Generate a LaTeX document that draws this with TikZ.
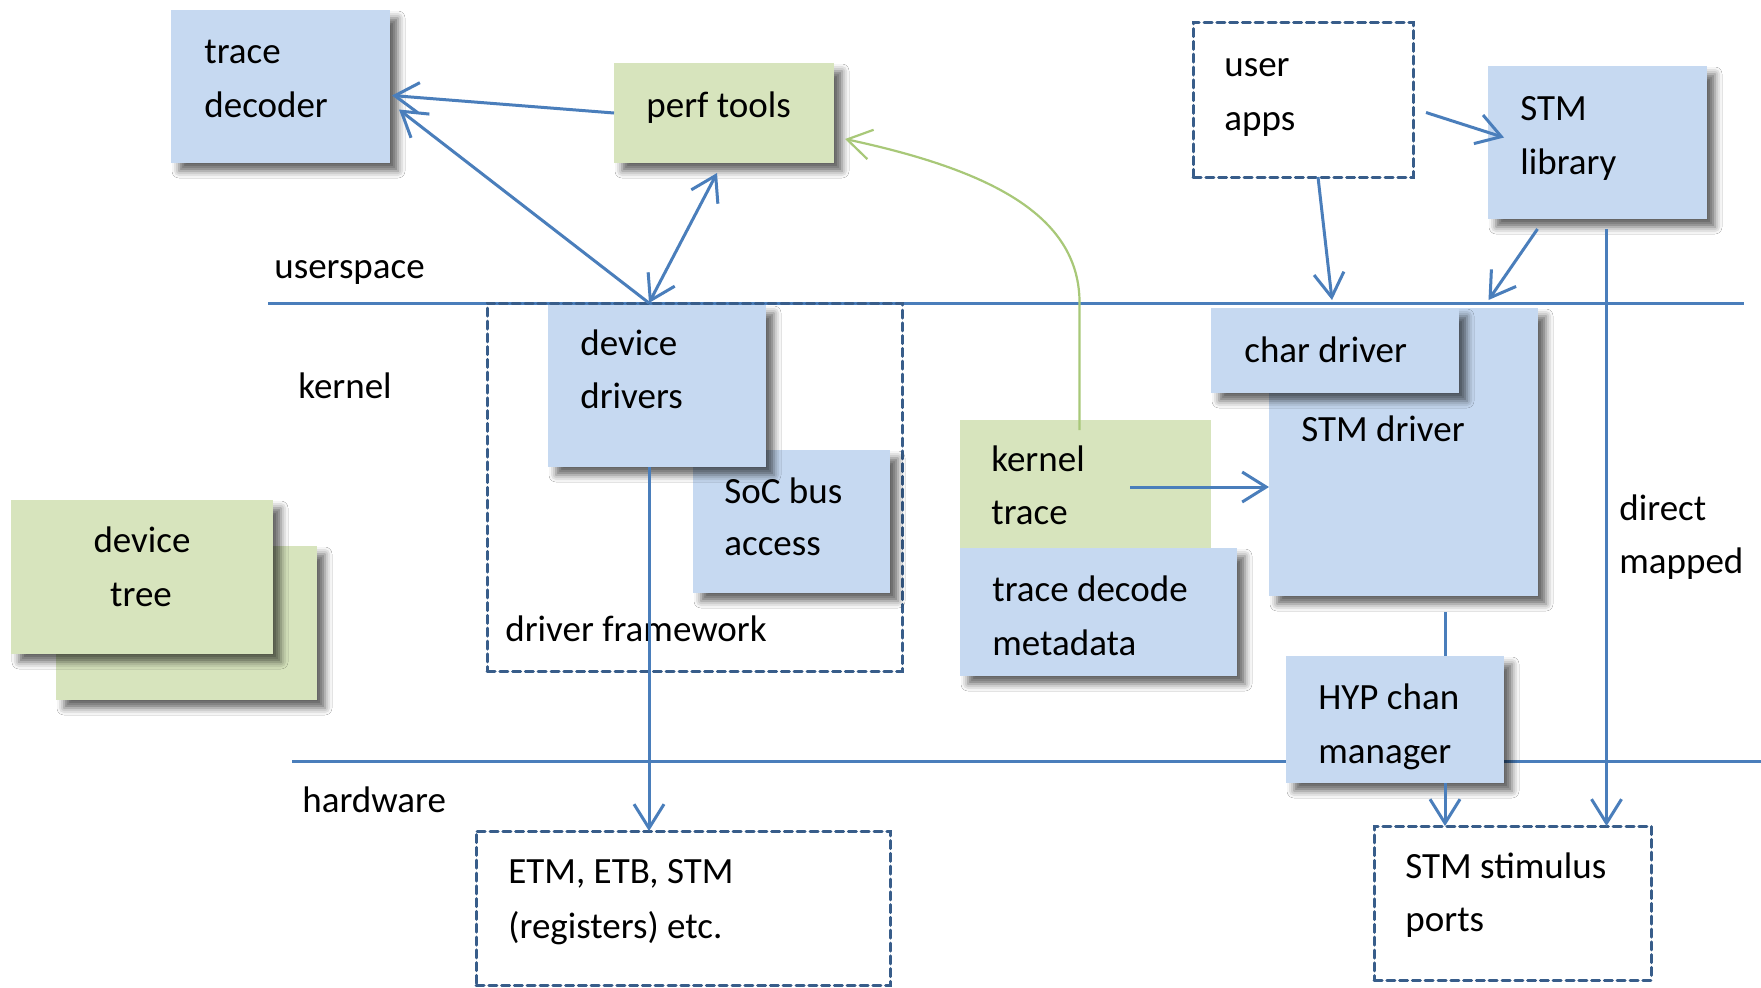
\documentclass[tikz,border=0pt]{standalone}
\usepackage{fontspec}
\setmainfont{Carlito}
\usetikzlibrary{arrows.meta,fit,calc,shadows.blur}

\definecolor{boxblue}{HTML}{C6D9F1}
\definecolor{boxgreen}{HTML}{D7E4BD}
\definecolor{linkblue}{HTML}{4A7EBB}
\definecolor{frameblue}{HTML}{385D8A}
\definecolor{curvegreen}{HTML}{A8C878}

\begin{document}
\begin{tikzpicture}[x=0.5pt,y=-0.5pt,
  panel/.style={inner sep=0pt, outer sep=0pt,
    blur shadow={shadow xshift=4pt, shadow yshift=-4pt,
                 shadow blur radius=3.5pt, shadow opacity=60}},
  bluebox/.style={panel, fill=boxblue},
  greenbox/.style={panel, fill=boxgreen},
  flatgreen/.style={inner sep=0pt, outer sep=0pt, fill=boxgreen},
  dashbox/.style={draw=frameblue, line width=1.5pt, line cap=round,
                  dash pattern=on 4pt off 2.4pt, inner sep=0pt, outer sep=0pt},
  lbl/.style={anchor=base west, inner sep=0pt, font=\fontsize{18.5}{22}\selectfont},
  clbl/.style={lbl, anchor=base},
  link/.style={draw=linkblue, line width=1.5pt},
  barb/.tip={Straight Barb[length=12pt,width=15pt,line width=1.5pt]},
  arr/.style={link, -barb},
  biarr/.style={link, barb-barb},
  feed/.style={draw=curvegreen, line width=1.1pt,
               -{Straight Barb[length=12pt,width=15pt,line width=1.1pt]}},
]
% canvas
\fill[white] (0,0) rectangle (1761,987);
\useasboundingbox (0,0) rectangle (1761,987);

% layer separators
\coordinate (usL) at (268,303);
\coordinate (usR) at (1744,303);
\coordinate (hwL) at (292,761);
\coordinate (hwR) at (1761,761);
\draw[link] (usL) -- (usR);
\draw[link] (hwL) -- (hwR);

% layer names
\node[lbl] (nUser) at (274,278) {userspace};
\node[lbl] (nKern) at (298,398) {kernel};
\node[lbl] (nHw)   at (302,812) {hardware};

% userspace tools
\node[bluebox, fit={(171,10) (390,163)}] (dec) {};
\node[lbl] (decA) at (204,63) {trace};
\node[lbl] (decB) at (204,117) {decoder};

\node[greenbox, fit={(614,63) (834,163)}] (perf) {};
\node[lbl] (perfA) at (646,117) {perf tools};

\node[dashbox, fit={(1193,22) (1413,177)}] (apps) {};
\node[lbl] (appsA) at (1224,76) {user};
\node[lbl] (appsB) at (1224,130) {apps};

\node[bluebox, fit={(1488,66) (1707,219)}] (lib) {};
\node[lbl] (libA) at (1520,120) {STM};
\node[lbl] (libB) at (1520,174) {library};

% device tree
\node[greenbox, fit={(56,546) (317,700)}] (dtBack) {};
\node[greenbox, fit={(11,500) (273,654)}] (dt) {};
\node[clbl] (dtA) at (142,552) {device};
\node[clbl] (dtB) at (141,606) {tree};

% driver framework
\node[dashbox, fit={(487,303) (902,671)}] (fw) {};
\node[lbl] (fwA) at (505,641) {driver framework};
\node[bluebox, fit={(693,450) (890,593)}] (soc) {};
\node[lbl] (socA) at (724,503) {SoC bus};
\node[lbl] (socB) at (724,555) {access};
\node[bluebox, fit={(548,305) (766,467)}] (drv) {};
\node[lbl] (drvA) at (580,355) {device};
\node[lbl] (drvB) at (580,408) {drivers};

% kernel trace and metadata
\node[flatgreen, fit={(960,420) (1211,548)}] (ktrace) {};
\node[lbl] (ktA) at (991,471) {kernel};
\node[lbl] (ktB) at (991,524) {trace};
\node[bluebox, fit={(960,548) (1237,676)}] (meta) {};
\node[lbl] (metaA) at (992,601) {trace decode};
\node[lbl] (metaB) at (992,655) {metadata};

% STM driver stack
\node[bluebox, fit={(1269,308) (1538,596)}] (stmdrv) {};
\node[lbl] (stmA) at (1301,441) {STM driver};
\node[bluebox, fit={(1211,308) (1459,393)}] (chardrv) {};
\node[lbl] (charA) at (1244,362) {char driver};
\node[bluebox, fit={(1286,656) (1504,783)}] (hyp) {};
\node[lbl] (hypA) at (1318,709) {HYP chan};
\node[lbl] (hypB) at (1318,763) {manager};

\node[lbl] (dmA) at (1619,520) {direct};
\node[lbl] (dmB) at (1619,573) {mapped};

% hardware blocks
\node[dashbox, fit={(476,831) (890,985)}] (etm) {};
\node[lbl] (etmA) at (508,883) {ETM, ETB, STM};
\node[lbl] (etmB) at (508,938) {(registers) etc.};
\node[dashbox, fit={(1374,826) (1651,980)}] (stim) {};
\node[lbl] (stimA) at (1405,878) {STM stimulus};
\node[lbl] (stimB) at (1405,931) {ports};

% connectors
\coordinate (drvTop) at (649,303);
\draw[arr] (perf.west) -- ($(dec.east)+(2,9)$);
\draw[arr] (drvTop) -- ($(dec.east)+(9,23)$);
\draw[biarr] (drvTop) -- ($(perf.south)+(-7,10)$);
\draw[arr] (drv.south -| drvTop) -- (drvTop |- etm.north);

\coordinate (ktOut) at ($(ktrace.east)+(-81,3)$);
\draw[arr] (ktOut) -- (ktOut -| stmdrv.west);
\draw[feed] ($(ktrace.north)+(-6,10)$) -- ++(0,-130)
  .. controls +(-2,-85) and +(145,31) .. ($(perf.east)+(11,26)$);

\draw[arr] ($(apps.south)+(15,0)$) -- ($(chardrv.north)+(-3,-8)$);
\draw[arr] ($(apps.east)+(13,13)$) -- ($(lib.west)+(16,-5)$);
\draw[arr] ($(lib.south)+(-60,10)$) -- ($(lib.south)+(-109,81)$);
\coordinate (dmTop) at ($(lib.south)+(9,10)$);
\draw[arr] (dmTop) -- (dmTop |- stim.north);

\coordinate (chan) at (1445,612);
\draw[link] (chan) -- (chan |- hyp.north);
\draw[arr] (chan |- hyp.south) -- (chan |- stim.north);
\end{tikzpicture}
\end{document}
